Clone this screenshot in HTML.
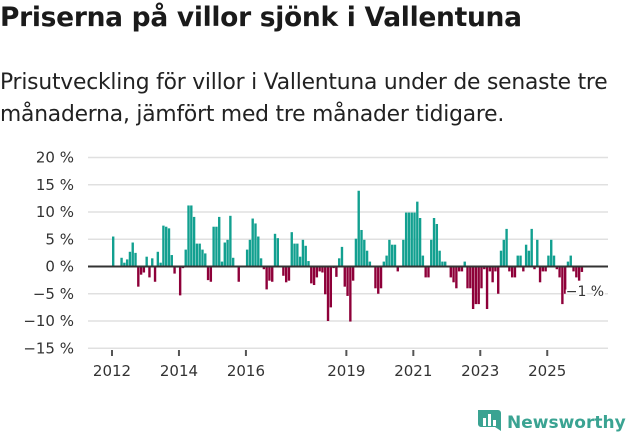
<!DOCTYPE html>
<html><head><meta charset="utf-8"><style>
body{margin:0;background:#fff;font-family:"Liberation Sans","DejaVu Sans",sans-serif;}
#wrap{position:relative;width:631px;height:439px;overflow:hidden;}
h1{position:absolute;left:0;top:2px;margin:0;font-size:26.5px;font-weight:bold;color:#1a1a1a;font-family:"DejaVu Sans","Liberation Sans",sans-serif;letter-spacing:-0.3px;white-space:nowrap}
p.sub{position:absolute;left:0;top:67px;margin:0;font-size:21.8px;line-height:32px;color:#222;font-family:"DejaVu Sans","Liberation Sans",sans-serif;letter-spacing:-0.2px;white-space:nowrap}
</style></head><body><div id="wrap">
<h1>Priserna på villor sjönk i Vallentuna</h1>
<p class="sub">Prisutveckling för villor i Vallentuna under de senaste tre<br>månaderna, jämfört med tre månader tidigare.</p>
<svg id="chart" width="631" height="439" style="position:absolute;left:0;top:0"></svg>
</div>
<script>
const values=[5.5,0,0,1.6,0.7,1.3,2.7,4.4,2.5,-3.7,-1.5,-1.1,1.8,-2.0,1.5,-2.8,2.7,0.7,7.5,7.3,7.0,2.1,-1.3,-0.2,-5.3,-0.3,3.1,11.2,11.2,9.1,4.2,4.2,3.1,2.4,-2.5,-2.8,7.3,7.3,9.1,0.9,4.4,4.9,9.3,1.6,0,-2.8,0,0,3.1,4.9,8.8,7.9,5.5,1.5,-0.5,-4.2,-2.6,-2.8,6.0,5.2,0,-1.7,-2.9,-2.6,6.3,4.2,4.2,1.8,4.9,3.8,1.0,-3.1,-3.4,-2.0,-0.9,-1.1,-5.1,-10.0,-7.5,-0.3,-1.9,1.5,3.6,-3.7,-5.4,-10.1,-2.6,5.1,13.9,6.7,4.9,2.9,0.9,0,-4.0,-5.0,-4.0,0.9,2.0,4.9,4.0,4.0,-0.9,0,4.9,9.9,9.9,9.9,9.9,11.9,8.9,2.0,-2.0,-2.0,4.9,8.9,7.8,2.9,0.9,0.9,0,-2.0,-2.9,-4.0,-0.9,-0.9,0.9,-4.0,-4.0,-7.8,-6.9,-6.9,-4.0,-0.5,-7.8,-0.9,-2.9,-0.9,-5.0,2.9,4.9,6.9,-0.9,-2.0,-2.0,2.0,2.0,-0.9,4.0,2.9,6.9,-0.5,4.9,-2.9,-0.9,-0.9,2.0,4.9,2.0,-0.5,-2.0,-6.9,-5.0,0.9,2.0,-0.9,-2.0,-2.6,-1.0];
const startYear=2012;
const yTicks=[20,15,10,5,0,-5,-10,-15];
const xTickYears=[2012,2014,2016,2019,2021,2023,2025];
const lastLabel="−1 %";
const NS="http://www.w3.org/2000/svg";
const svg=document.getElementById('chart');
const x0=112,bw=2.79,plotL=88,plotR=608;
const y=v=>266.5-v*5.45;
const xi=i=>x0+i*bw;
function mk(t,a){const e=document.createElementNS(NS,t);for(const k in a)e.setAttribute(k,a[k]);svg.appendChild(e);return e;}
yTicks.forEach(v=>{
 const g=mk('line',{x1:plotL,x2:plotR,y1:y(v),y2:y(v),stroke:'#e0e0e0','stroke-width':1.5});
 
 
 const t=mk('text',{x:74,y:y(v)+5,'text-anchor':'end','font-size':15,fill:'#333','font-family':'DejaVu Sans, Liberation Sans, sans-serif'});
 t.textContent=(v<0?'−'+(-v):v)+' %';
 
 
});
values.forEach((v,i)=>{
 const r=mk('rect',{x:xi(i),width:bw-0.4,y:v>=0?y(v):y(0),height:Math.abs(y(v)-y(0)),fill:v>=0?'#12a090':'#8e0039'});
 
 
});
const z=mk('line',{x1:plotL,x2:plotR,y1:y(0),y2:y(0),stroke:'#333','stroke-width':2});


xTickYears.forEach(yr=>{
 const x=xi((yr-startYear)*12);
 const l=mk('line',{x1:x,x2:x,y1:350,y2:356,stroke:'#555','stroke-width':2});
 
 
 const t=mk('text',{x:x,y:376,'text-anchor':'middle','font-size':15,fill:'#333','font-family':'DejaVu Sans, Liberation Sans, sans-serif'});
 t.textContent=yr;
 
 
});
const lv=values[values.length-1];
const lt=mk('text',{x:xi(values.length-1)-15,y:y(lv)+24,'font-size':14,fill:'#333',stroke:'#fff','stroke-width':3,'paint-order':'stroke','font-family':'DejaVu Sans, Liberation Sans, sans-serif'});
lt.textContent=lastLabel;


// logo
const lg=mk('g',{});


const lr=document.createElementNS(NS,'path');lr.setAttribute('d','M478 410 h20 a3 3 0 0 1 3 3 v18 l-6 -4 h-14 a3 3 0 0 1 -3 -3 z');lr.setAttribute('fill','#3aa392');lg.appendChild(lr);
[[483,418,4],[488,414,8],[493,420,2]].forEach(b=>{const r=document.createElementNS(NS,'rect');r.setAttribute('x',b[0]);r.setAttribute('y',b[1]);r.setAttribute('width',3);r.setAttribute('height',b[2]+4);r.setAttribute('fill','#fff');lg.appendChild(r);});
const lt2=document.createElementNS(NS,'text');lt2.setAttribute('x',507);lt2.setAttribute('y',428);lt2.setAttribute('font-size',17);lt2.setAttribute('font-weight','bold');lt2.setAttribute('fill','#3aa392');lt2.setAttribute('font-family','DejaVu Sans, Liberation Sans, sans-serif');lt2.textContent='Newsworthy';lg.appendChild(lt2);
</script></body></html>
